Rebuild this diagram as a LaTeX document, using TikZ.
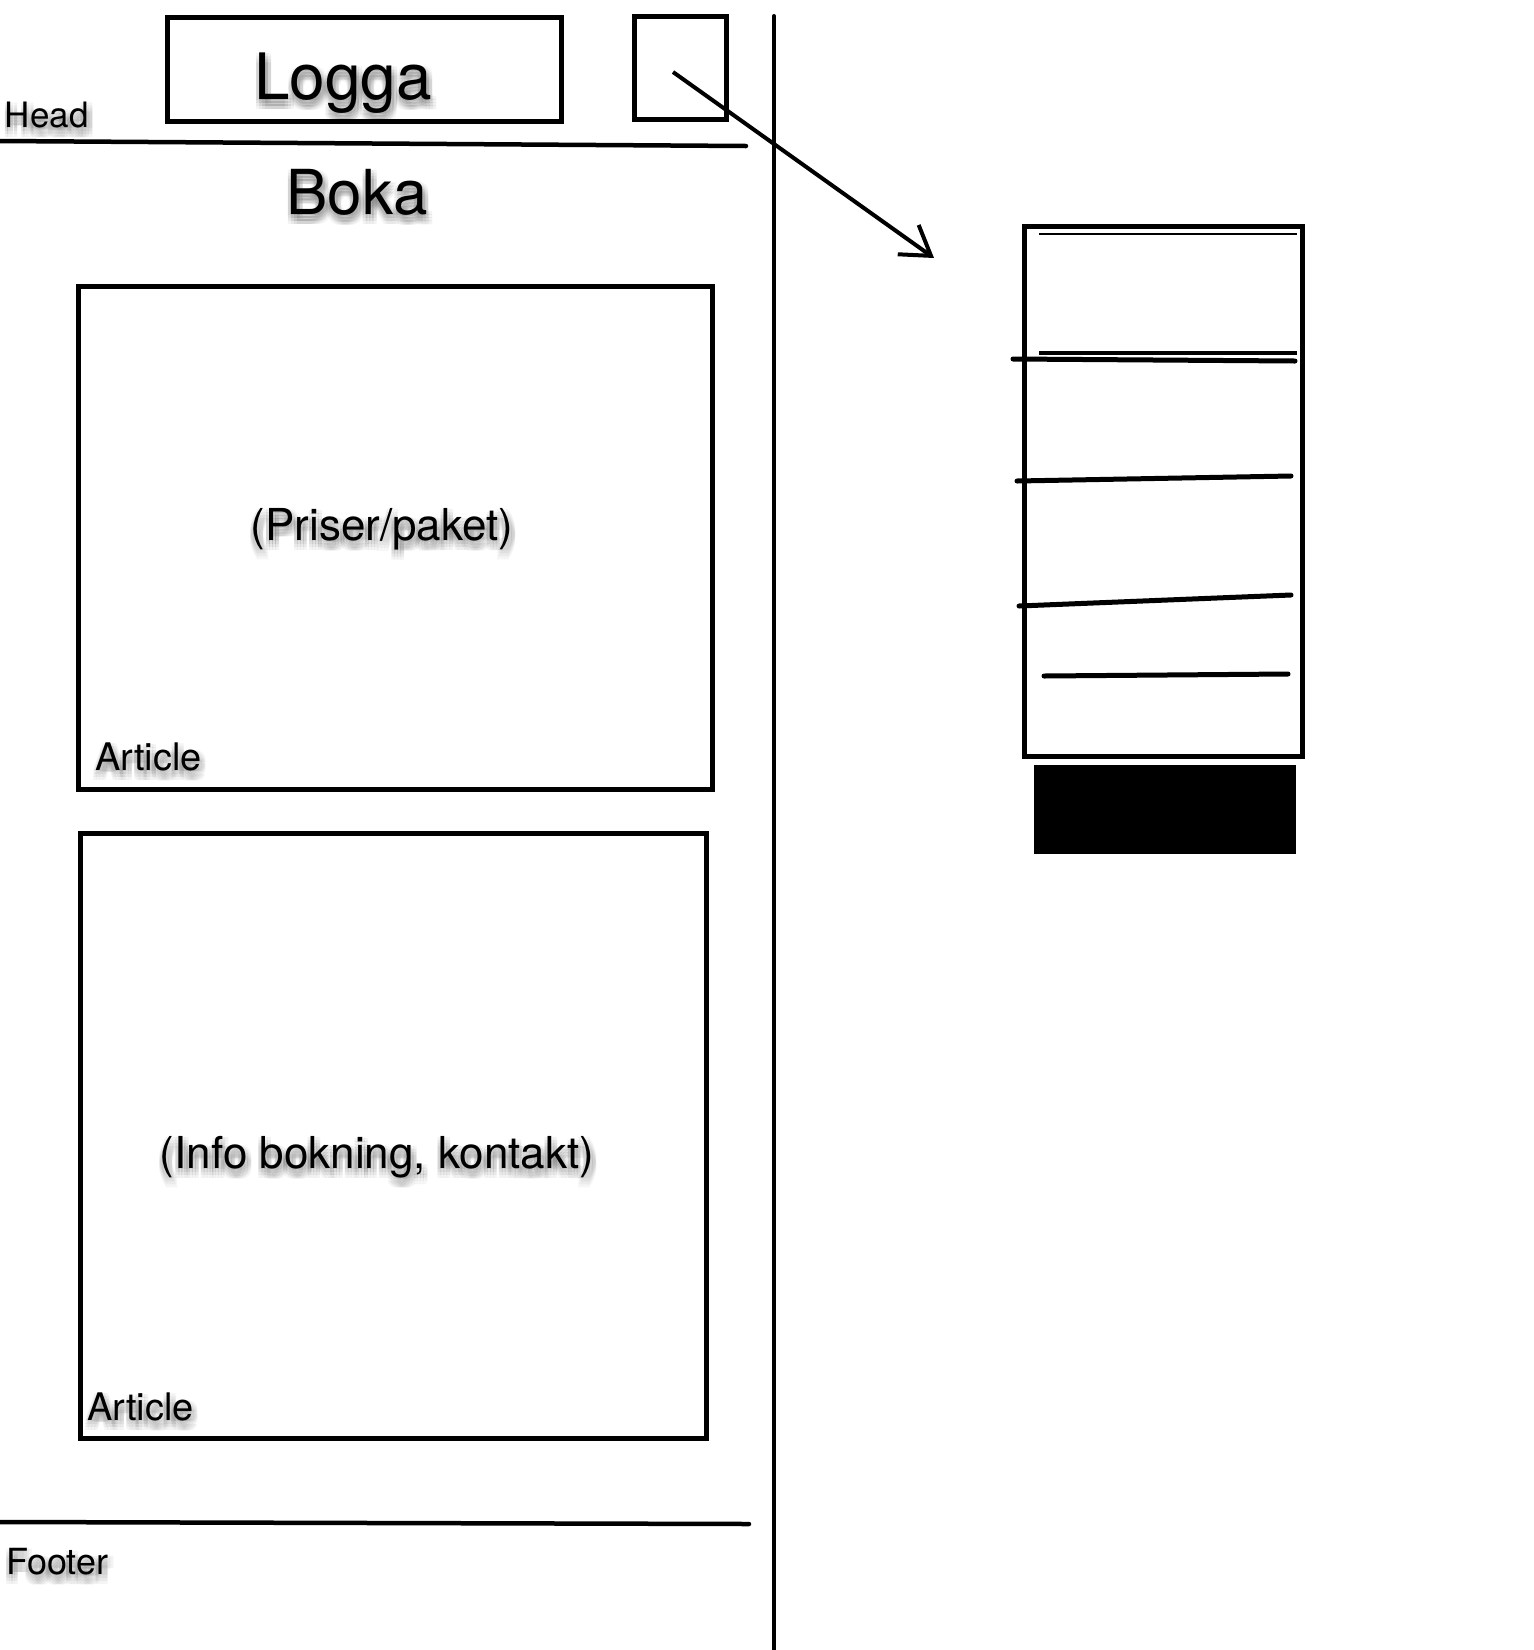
\documentclass[tikz,border=0pt]{standalone}
\usepackage{fontspec}
\setmainfont{TeX Gyre Heros}
\usetikzlibrary{arrows.meta,calc}

% one unit = one point, y grows downwards
\tikzset{
  x=1pt, y=-1pt,
  frame/.style={draw=black, line width=5pt, inner sep=0pt, outer sep=0pt, anchor=north west},
  rulers/.style={draw=black, line width=4.5pt, line cap=round},
  stroke/.style={draw=black, line width=5pt, line cap=round},
  txt/.style={inner sep=0pt, outer sep=0pt, text=black},
  haze/.style={txt, opacity=0.045},
}

% text with a soft grey drop shadow underneath
\newcommand\shadowedtext[5]{% name, anchor, x, y, content
  \foreach \dx in {0,3,6,9}{\foreach \dy in {1,4,7,10}{
    \node[haze, anchor=#2] at (#3-3+\dx, #4+\dy) {#5};}}
  \node[txt, anchor=#2] (#1) at (#3,#4) {#5};
}
\newcommand\fs[1]{\fontsize{#1}{#1}\selectfont}

\begin{document}
\begin{tikzpicture}
  \fill[white] (0,0) rectangle (1534,1650);
  \useasboundingbox (0,0) rectangle (1534,1650);

  % ---- page column ----
  \node[frame, minimum width=394pt, minimum height=104pt] (logo) at (167,17) {};
  \node[frame, minimum width=92pt, minimum height=103pt] (menu) at (634,16) {};
  \draw[rulers] (0,141) -- (746,146);
  \node[frame, minimum width=634pt, minimum height=503pt] (art1) at (78,286) {};
  \node[frame, minimum width=626pt, minimum height=605pt] (art2) at (80,833) {};
  \draw[rulers] (0,1522) -- (749,1524);

  % divider between page and menu sketch
  \draw[draw=black, line width=4pt, line cap=round] (774,16) -- (774,1652);

  % ---- labels ----
  \shadowedtext{loggatext}{base}{343}{99}{\fs{64}Logga}
  \shadowedtext{headtext}{base west}{5}{127}{\fs{35}Head}
  \shadowedtext{bokatext}{base}{357}{214}{\fs{62}Boka}
  \shadowedtext{pristext}{base}{382}{540}{\fs{44}(Priser/paket)}
  \shadowedtext{art1text}{base west}{95}{770}{\fs{38}Article}
  \shadowedtext{infotext}{base}{377}{1168}{\fs{44}(Info bokning, kontakt)}
  \shadowedtext{art2text}{base west}{87}{1420}{\fs{38}Article}
  \shadowedtext{foottext}{base west}{6}{1574}{\fs{36}Footer}

  % ---- opened menu ----
  \node[frame, minimum width=278pt, minimum height=530pt] (drawer) at (1024,226) {};
  \draw[black, line width=2pt] (1039,234) -- (1297,234);
  \draw[black, line width=4.5pt] (1039,353) -- (1297,353);
  \draw[stroke] (1013,359) -- (1295,361);
  \draw[stroke] (1017,481) -- (1291,476);
  \draw[stroke] (1019,606) -- (1291,595);
  \draw[stroke] (1044,676) -- (1288,674);
  \node[fill=black, inner sep=0pt, outer sep=0pt, anchor=north west,
        minimum width=262pt, minimum height=89pt] (button) at (1034,765) {};

  % ---- menu tap arrow ----
  \coordinate (tap) at (673,72);
  \coordinate (opened) at (934,258);
  \draw[black, line width=4pt,
        -{Straight Barb[length=28pt, width=36pt, line width=4pt]}] (tap) -- (opened);
\end{tikzpicture}
\end{document}
